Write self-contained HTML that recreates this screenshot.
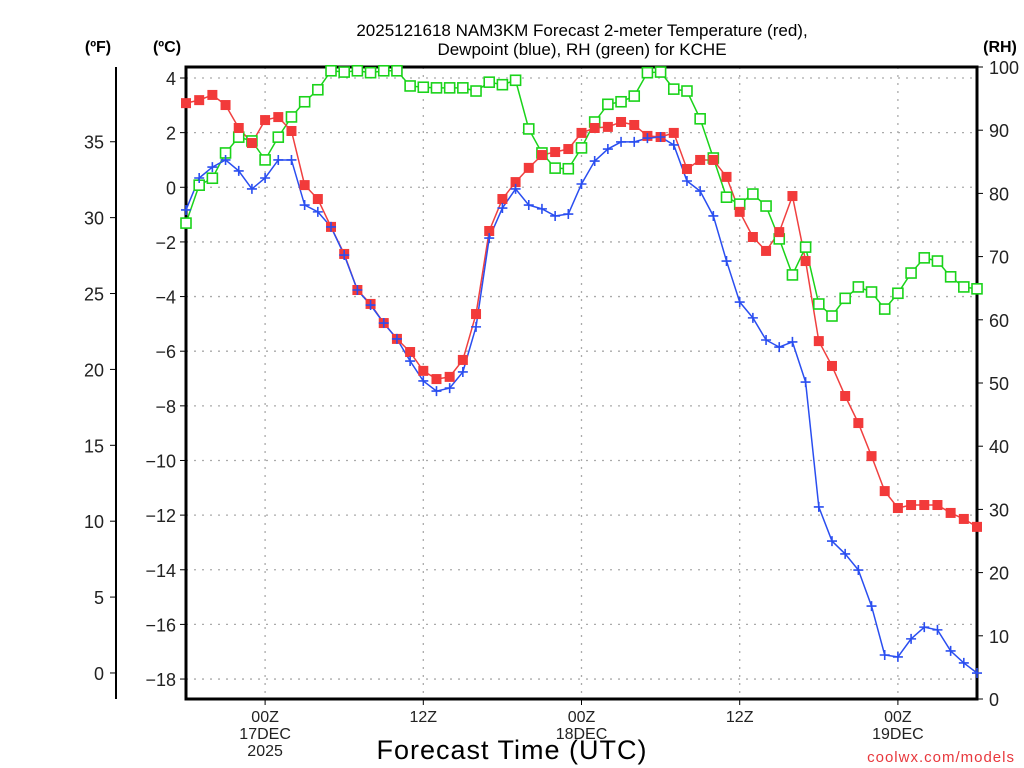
<!DOCTYPE html>
<html><head><meta charset="utf-8">
<style>
html,body{margin:0;padding:0;background:#fff;}
svg{display:block;font-family:"Liberation Sans",sans-serif;}
</style></head>
<body>
<svg id="chart" width="1024" height="768" viewBox="0 0 1024 768" xmlns="http://www.w3.org/2000/svg">
<rect x="0" y="0" width="1024" height="768" fill="#fff"/>
<g id="grid"></g>
<g id="axes"></g>
<g id="series"></g>
<text x="582" y="36" text-anchor="middle" font-size="17">2025121618 NAM3KM Forecast 2-meter Temperature (red),</text>
<text x="582" y="55" text-anchor="middle" font-size="17">Dewpoint (blue), RH (green) for KCHE</text>
<text x="98" y="52" text-anchor="middle" font-size="16" font-weight="bold">(ºF)</text>
<text x="167" y="52" text-anchor="middle" font-size="16" font-weight="bold">(ºC)</text>
<text x="1000" y="52" text-anchor="middle" font-size="16" font-weight="bold">(RH)</text>
<text x="512" y="759" text-anchor="middle" font-size="27" letter-spacing="1">Forecast Time (UTC)</text>
<text x="1015" y="762" text-anchor="end" font-size="15" fill="#e8383d" letter-spacing="1">coolwx.com/models</text>
</svg>
<script>
// hours since 18Z 16DEC 2025, hourly
const hours = Array.from({length:61},(_,i)=>i);
const tempC = [3.08,3.19,3.38,3.01,2.17,1.62,2.46,2.57,2.06,0.08,-0.43,-1.45,-2.44,-3.76,-4.27,-4.97,-5.55,-6.03,-6.72,-7.02,-6.94,-6.32,-4.64,-1.60,-0.43,0.19,0.71,1.18,1.29,1.40,1.99,2.17,2.21,2.39,2.28,1.88,1.84,1.99,0.67,1.0,1.0,0.38,-0.90,-1.82,-2.33,-1.64,-0.32,-2.70,-5.63,-6.54,-7.64,-8.63,-9.84,-11.12,-11.74,-11.63,-11.63,-11.63,-11.92,-12.14,-12.43];
const dewC = [-0.83,0.34,0.74,1.0,0.60,-0.06,0.34,1.0,1.0,-0.65,-0.90,-1.45,-2.48,-3.76,-4.31,-4.97,-5.55,-6.36,-7.09,-7.46,-7.35,-6.76,-5.11,-1.86,-0.76,-0.06,-0.65,-0.79,-1.05,-0.98,0.12,0.96,1.40,1.66,1.66,1.80,1.84,1.55,0.23,-0.14,-1.05,-2.70,-4.20,-4.78,-5.59,-5.85,-5.66,-7.13,-11.70,-12.95,-13.42,-14.01,-15.33,-17.12,-17.19,-16.53,-16.10,-16.20,-16.97,-17.41,-17.78];
const rh = [75.3,81.3,82.4,86.4,88.9,88.3,85.3,88.9,92.1,94.5,96.4,99.4,99.2,99.4,99.1,99.4,99.4,97.0,96.8,96.7,96.7,96.7,96.2,97.6,97.2,97.9,90.2,86.4,84.0,83.9,87.2,91.3,94.1,94.5,95.4,99.1,99.2,96.5,96.2,91.8,85.6,79.4,78.3,79.9,78.0,72.8,67.1,71.5,62.5,60.6,63.4,65.2,64.4,61.7,64.2,67.4,69.8,69.3,66.8,65.2,64.9];
const cTicks = [4,2,0,-2,-4,-6,-8,-10,-12,-14,-16,-18];
const fTicks = [35,30,25,20,15,10,5,0];
const rhTicks = [100,90,80,70,60,50,40,30,20,10,0];
const xTickHours = [6,18,30,42,54];
const xTickLabels = [["00Z","17DEC","2025"],["12Z"],["00Z","18DEC"],["12Z"],["00Z","19DEC"]];

const L=186,R=977,T=67,B=699;
const xS=h=>L+(h-0)*(R-L)/60;
const yC=c=>78+(4-c)*27.32;
const yF=f=>yC((f-32)/1.8);
const yR=r=>T+(100-r)*(B-T)/100;
const NS="http://www.w3.org/2000/svg";
function mk(tag,attrs,parent){const e=document.createElementNS(NS,tag);for(const k in attrs)e.setAttribute(k,attrs[k]);parent.appendChild(e);return e;}
const grid=document.getElementById('grid'),axes=document.getElementById('axes'),ser=document.getElementById('series');

// grid
cTicks.forEach(c=>{const l=mk('line',{x1:L,x2:R,y1:yC(c),y2:yC(c),stroke:'#aaa','stroke-width':1.3,'stroke-dasharray':'2 6'},grid);

});
xTickHours.forEach(h=>{const l=mk('line',{x1:xS(h),x2:xS(h),y1:T,y2:B,stroke:'#aaa','stroke-width':1.3,'stroke-dasharray':'2 6'},grid);

});

// frame
const fr=mk('rect',{x:L,y:T,width:R-L,height:B-T,fill:'none',stroke:'#000','stroke-width':3},axes);


const fl=mk('line',{x1:116,x2:116,y1:T,y2:B,stroke:'#000','stroke-width':2},axes);



cTicks.forEach(c=>{const y=yC(c);
mk('line',{x1:180,x2:L,y1:y,y2:y,stroke:'#000','stroke-width':1},axes);
const t=mk('text',{x:176,y:y+7,'text-anchor':'end','font-size':18,fill:'#222'},axes);t.textContent=(c<0?'\u2212'+(-c):c);

});
fTicks.forEach(f=>{const y=yF(f);
mk('line',{x1:110,x2:116,y1:y,y2:y,stroke:'#000','stroke-width':1},axes);
const t=mk('text',{x:104,y:y+7,'text-anchor':'end','font-size':18,fill:'#222'},axes);t.textContent=f;

});
rhTicks.forEach(r=>{const y=yR(r);
mk('line',{x1:R,x2:R+6,y1:y,y2:y,stroke:'#000','stroke-width':1},axes);
const t=mk('text',{x:989,y:y+7,'text-anchor':'start','font-size':18,fill:'#222'},axes);t.textContent=r;

});
xTickHours.forEach((h,i)=>{const x=xS(h);
mk('line',{x1:x,x2:x,y1:B,y2:B+6,stroke:'#000','stroke-width':1},axes);
xTickLabels[i].forEach((s,j)=>{const t=mk('text',{x:x,y:722+j*17,'text-anchor':'middle','font-size':16,fill:'#222'},axes);t.textContent=s;

});});

function line(vals,yf,color,name){const p=mk('polyline',{points:vals.map((v,i)=>xS(hours[i])+','+yf(v)).join(' '),fill:'none',stroke:color,'stroke-width':1.5},ser);

}
line(rh,yR,'#1ad31a','rh-line');
line(tempC,yC,'#f04040','temperature-line');
line(dewC,yC,'#2a4ef0','dewpoint-line');
rh.forEach((v,i)=>{const m=mk('rect',{x:xS(hours[i])-5,y:yR(v)-5,width:10,height:10,fill:'#fff',stroke:'#1ad31a','stroke-width':1.6},ser);

});
tempC.forEach((v,i)=>{const m=mk('rect',{x:xS(hours[i])-5,y:yC(v)-5,width:10,height:10,fill:'#f23a3a'},ser);

});
dewC.forEach((v,i)=>{const x=xS(hours[i]),y=yC(v);
const m=mk('path',{d:`M${x-5} ${y}H${x+5}M${x} ${y-5}V${y+5}`,stroke:'#2a4ef0','stroke-width':1.6},ser);

});
</script>
</body></html>
